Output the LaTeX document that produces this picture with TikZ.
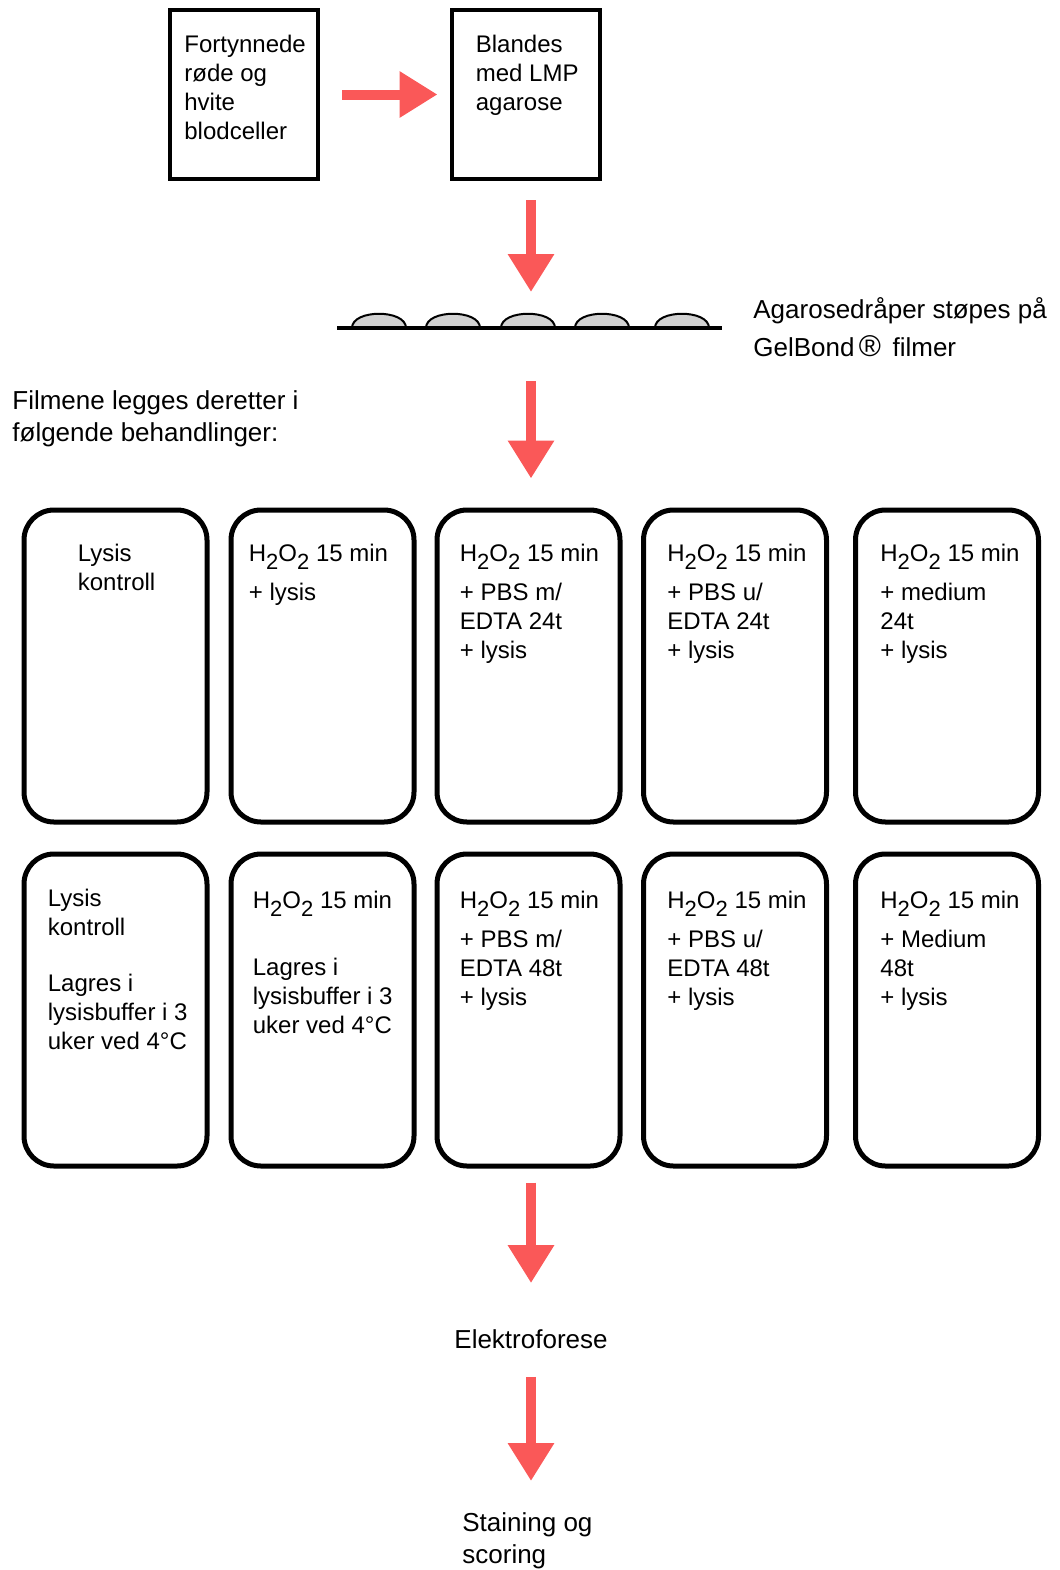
\documentclass[tikz,border=0pt]{standalone}
\usepackage{fontspec}
\setmainfont{Liberation Sans}
\usetikzlibrary{arrows.meta}
\definecolor{flowred}{RGB}{250,88,88}
\newcommand\sub[1]{\raisebox{-4pt}{\fontsize{11}{11}\selectfont #1}}
\newcommand\hoo{H\sub{2}O\sub{2}}

\begin{document}
\begin{tikzpicture}[x=0.5pt,y=-0.5pt]
        % Define styles
        \tikzset{
            flow/.style={draw=flowred, line width=5pt, -{Triangle[width=22pt,length=19pt]}},
            sample/.style={draw, line width=2pt, minimum width=74pt, minimum height=84.5pt, inner sep=0pt},
            treat/.style={draw, line width=2.5pt, rounded corners=15pt, minimum width=91.5pt, minimum height=156pt, inner sep=0pt},
            boxtext/.style={anchor=north west, inner sep=0pt, align=left, font=\fontsize{12}{14.5}\selectfont},
            note/.style={inner sep=0pt, align=left, font=\fontsize{13}{16}\selectfont},
            drop/.style={draw, line width=1pt, fill=gray!35}
        }
        \useasboundingbox (0,0) rectangle (1060,1570);
        % Sample boxes
        \node[sample] (blood) at (244,94.5) {};
        \node[boxtext] (bloodtxt) at ([shift={(16,27)}]blood.north west) {Fortynnede\\røde og\\hvite\\blodceller};
        \node[sample] (mix) at (525.5,94.5) {};
        \node[boxtext] (mixtxt) at ([shift={(26,27)}]mix.north west) {Blandes\\med LMP\\agarose};
        % Gel drops on the film
        \coordinate (film) at (531,328);
        \foreach \x in {379, 453, 528, 602, 682}
            \draw[drop] (\x-27,328) .. controls (\x-27,309) and (\x+27,309) .. (\x+27,328);
        \draw[line width=2pt] (337,328) -- (722,328);
        \node[note, anchor=north west] (castlbl) at (753,297) {Agarosedråper støpes på\\[3pt]GelBond\,{\fontsize{15}{15}\selectfont ®}\, filmer};
        \node[note, anchor=north west] (filmlbl) at (12,390) {Filmene legges deretter i\\følgende behandlinger:};
        % Treatment boxes, two rows
        \foreach \c/\x in {1/115.5, 2/322.5, 3/528.5, 4/735, 5/947} {
            \node[treat] (r1\c) at (\x,666) {};
            \node[treat] (r2\c) at (\x,1010) {};
        }
        \node[boxtext] (t11) at ([shift={(56,36)}]r11.north west) {Lysis\\kontroll};
        \node[boxtext] (t12) at ([shift={(20,36)}]r12.north west) {\hoo{} 15 min\\[5pt]+ lysis};
        \node[boxtext] (t13) at ([shift={(25,36)}]r13.north west) {\hoo{} 15 min\\[5pt]+ PBS m/\\EDTA 24t\\+ lysis};
        \node[boxtext] (t14) at ([shift={(26,36)}]r14.north west) {\hoo{} 15 min\\[5pt]+ PBS u/\\EDTA 24t\\+ lysis};
        \node[boxtext] (t15) at ([shift={(27,36)}]r15.north west) {\hoo{} 15 min\\[5pt]+ medium\\24t\\+ lysis};
        \node[boxtext] (t21) at ([shift={(26,37)}]r21.north west) {Lysis\\kontroll\\[13.5pt]Lagres i\\lysisbuffer i 3\\uker ved 4°C};
        \node[boxtext] (t22) at ([shift={(24,39)}]r22.north west) {\hoo{} 15 min\\[19pt]Lagres i\\lysisbuffer i 3\\uker ved 4°C};
        \node[boxtext] (t23) at ([shift={(25,39)}]r23.north west) {\hoo{} 15 min\\[5pt]+ PBS m/\\EDTA 48t\\+ lysis};
        \node[boxtext] (t24) at ([shift={(26,39)}]r24.north west) {\hoo{} 15 min\\[5pt]+ PBS u/\\EDTA 48t\\+ lysis};
        \node[boxtext] (t25) at ([shift={(27,39)}]r25.north west) {\hoo{} 15 min\\[5pt]+ Medium\\48t\\+ lysis};
        % Final steps
        \node[note] (elek) at (531,1339) {Elektroforese};
        \node[note, anchor=north west] (stain) at (462,1512) {Staining og\\scoring};
        % Arrows
        \draw[flow, shorten <=11pt, shorten >=6pt] (blood.east) -- (mix.west);
        \draw[flow, shorten <=9.5pt, shorten >=18pt] (mix.south -| film) -- (film);
        \draw[flow, shorten <=26.5pt, shorten >=14.5pt] (film) -- (film |- r13.north);
        \draw[flow, shorten <=7pt, shorten >=23pt] (r23.south -| film) -- (elek.north -| film);
        \draw[flow, shorten <=14pt, shorten >=15.5pt] (elek.south -| film) -- (film |- stain.north);
\end{tikzpicture}
\end{document}
